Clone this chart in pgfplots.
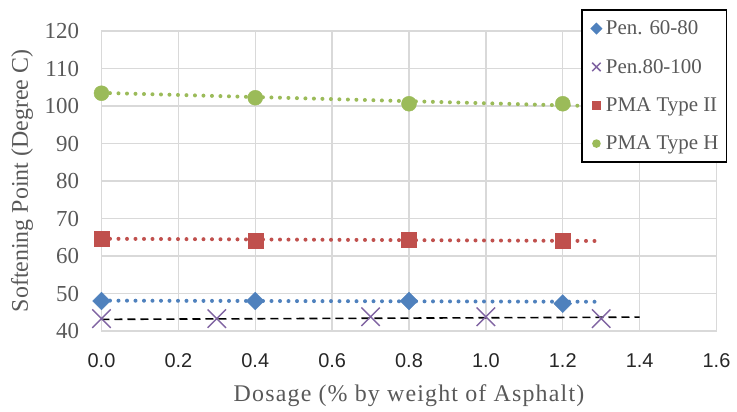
\documentclass[border=0pt]{standalone}
\usepackage{pgfplots}
\pgfplotsset{compat=1.18}
\usepackage{fontspec}
\setmainfont{Liberation Serif}
\newfontfamily\arialfont{Liberation Sans}
\newfontfamily\spacedserif[LetterSpace=5]{Liberation Serif}
\definecolor{cblue}{HTML}{4F81BD}
\definecolor{cred}{HTML}{C0504D}
\definecolor{cgreen}{HTML}{9BBB59}
\definecolor{cpurple}{HTML}{8064A2}
\definecolor{cgrid}{HTML}{D9D9D9}
\definecolor{ctext}{HTML}{595959}
\begin{document}
\begin{tikzpicture}
\begin{axis}[
  scale only axis,
  width=615bp, height=300bp,
  xmin=0, xmax=1.6, ymin=40, ymax=120,
  xtick={0,0.2,...,1.6}, ytick={40,50,...,120},
  grid=major,
  major grid style={draw=cgrid, line width=1.3bp},
  axis line style={draw=cgrid, line width=1.3bp},
  major tick length=0pt,
  /pgf/number format/assume math mode=true,
  xticklabel={\pgfmathprintnumber[fixed,fixed zerofill,precision=1]{\tick}},
  xticklabel style={font=\arialfont\fontsize{20}{22}\selectfont, text=black!85, yshift=-19bp},
  yticklabel style={font=\fontsize{23}{25}\selectfont, text=ctext, xshift=-19bp},
  xlabel={Dosage (\% by weight of Asphalt)},
  ylabel={Softening Point (Degree C)},
  xlabel style={font=\spacedserif\fontsize{24}{27}\selectfont, text=ctext, at={(axis description cs:0.5,-0.217)}, anchor=center},
  ylabel style={font=\fontsize{24}{27}\selectfont, text=ctext, at={(axis description cs:-0.1293,0.5)}, anchor=center},
  legend style={at={(axis description cs:0.78,1.073)}, anchor=north west,
    draw=black, line width=1.5bp, fill=white,
    font=\fontsize{21}{24}\selectfont, text=ctext,
    row sep=19bp, inner xsep=6bp, inner ysep=9bp,
    legend cell align=left},
  legend image code/.code={\path[draw=none,fill=none] (0.3cm-8.5bp,0cm) -- (0.3cm+7.5bp,0cm); \draw[#1, mark size=3.5bp] plot coordinates {(0.3cm,0cm)};},
]
\coordinate (sw) at (rel axis cs:0,0);
% trendlines
\addplot[forget plot, cblue, line width=4bp, line cap=round, dash pattern=on 0bp off 8.5bp] coordinates {(0,48.1) (1.3,47.8)};
\addplot[forget plot, black, line width=1.6bp, dash pattern=on 8bp off 5bp] coordinates {(0,43.1) (1.4,43.7)};
\addplot[forget plot, cred, line width=4bp, line cap=round, dash pattern=on 0bp off 8.5bp] coordinates {(0,64.6) (1.3,64.0)};
\addplot[forget plot, cgreen, line width=4bp, line cap=round, dash pattern=on 0bp off 8.5bp] coordinates {(0,103.5) (1.3,99.9)};
% data
\addplot[only marks, mark=square*, mark size=6.3bp, mark options={rotate=45, fill=cblue, draw=cblue}]
  coordinates {(0,48.0) (0.4,48.0) (0.8,48.0) (1.2,47.3)};
\addlegendentry{Pen. 60-80}
\addplot[only marks, mark=x, mark size=13bp, mark options={draw=cpurple, line width=1.5bp}, legend image code/.code={\path[draw=none,fill=none] (0.3cm-8.5bp,0cm) -- (0.3cm+7.5bp,0cm); \draw[cpurple, line width=1.3bp, mark=x, mark size=6bp] plot coordinates {(0.3cm,0cm)};}]
  coordinates {(0,43.3) (0.3,43.3) (0.7,43.8) (1.0,43.8) (1.3,43.3)};
\addlegendentry{Pen.80-100}
\addplot[only marks, mark=square*, mark size=7.5bp, mark options={fill=cred, draw=cred}]
  coordinates {(0,64.5) (0.4,64.1) (0.8,64.4) (1.2,64.0)};
\addlegendentry{PMA Type II}
\addplot[only marks, mark=*, mark size=7.5bp, mark options={fill=cgreen, draw=cgreen}]
  coordinates {(0,103.4) (0.4,102.2) (0.8,100.6) (1.2,100.6)};
\addlegendentry{PMA Type H}
\end{axis}
\pgfresetboundingbox
\path[use as bounding box] ([shift={(-101.5bp,-81bp)}]sw) rectangle ([shift={(635.5bp,331bp)}]sw);
\end{tikzpicture}
\end{document}
